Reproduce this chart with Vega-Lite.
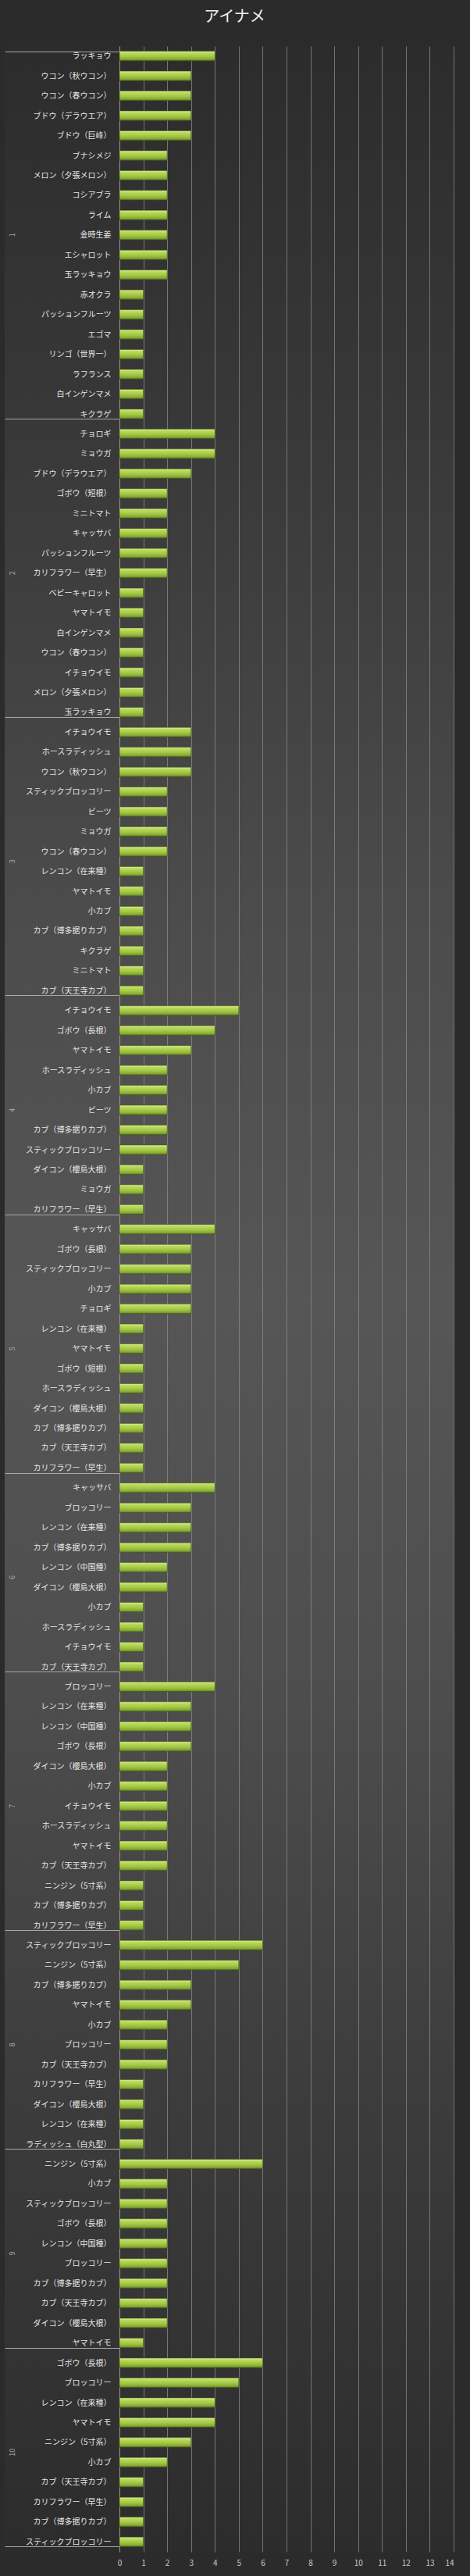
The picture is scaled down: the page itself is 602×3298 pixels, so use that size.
{
  "$schema": "https://vega.github.io/schema/vega-lite/v6.json",
  "autosize": "none",
  "width": 575,
  "height": 3208,
  "padding": {"left": 6, "top": 59, "right": 21, "bottom": 31},
  "background": "#2b2b2b",
  "title": {"text": "アイナメ", "color": "#f2f2f2", "fontSize": 20, "font": "Noto Sans CJK JP", "fontWeight": "normal", "anchor": "middle", "offset": 22, "dx": 7},
  "config": {
    "view": {"stroke": null, "fill": {"gradient": "linear", "x1": 0, "y1": 0, "x2": 0, "y2": 1, "stops": [
      {"offset": 0, "color": "#2c2c2c"},
      {"offset": 0.15, "color": "#383838"},
      {"offset": 0.35, "color": "#4c4c4c"},
      {"offset": 0.5, "color": "#565656"},
      {"offset": 0.65, "color": "#4e4e4e"},
      {"offset": 0.82, "color": "#3c3c3c"},
      {"offset": 1, "color": "#2c2c2c"}]}},
    "axis": {"labelFont": "Noto Sans CJK JP"}
  },
  "data": {"values": [
    {"group": "1", "item": "ラッキョウ", "id": "1|ラッキョウ", "count": 4},
    {"group": "1", "item": "ウコン（秋ウコン）", "id": "1|ウコン（秋ウコン）", "count": 3},
    {"group": "1", "item": "ウコン（春ウコン）", "id": "1|ウコン（春ウコン）", "count": 3},
    {"group": "1", "item": "ブドウ（デラウエア）", "id": "1|ブドウ（デラウエア）", "count": 3},
    {"group": "1", "item": "ブドウ（巨峰）", "id": "1|ブドウ（巨峰）", "count": 3},
    {"group": "1", "item": "ブナシメジ", "id": "1|ブナシメジ", "count": 2},
    {"group": "1", "item": "メロン（夕張メロン）", "id": "1|メロン（夕張メロン）", "count": 2},
    {"group": "1", "item": "コシアブラ", "id": "1|コシアブラ", "count": 2},
    {"group": "1", "item": "ライム", "id": "1|ライム", "count": 2},
    {"group": "1", "item": "金時生姜", "id": "1|金時生姜", "count": 2},
    {"group": "1", "item": "エシャロット", "id": "1|エシャロット", "count": 2},
    {"group": "1", "item": "玉ラッキョウ", "id": "1|玉ラッキョウ", "count": 2},
    {"group": "1", "item": "赤オクラ", "id": "1|赤オクラ", "count": 1},
    {"group": "1", "item": "パッションフルーツ", "id": "1|パッションフルーツ", "count": 1},
    {"group": "1", "item": "エゴマ", "id": "1|エゴマ", "count": 1},
    {"group": "1", "item": "リンゴ（世界一）", "id": "1|リンゴ（世界一）", "count": 1},
    {"group": "1", "item": "ラフランス", "id": "1|ラフランス", "count": 1},
    {"group": "1", "item": "白インゲンマメ", "id": "1|白インゲンマメ", "count": 1},
    {"group": "1", "item": "キクラゲ", "id": "1|キクラゲ", "count": 1},
    {"group": "2", "item": "チョロギ", "id": "2|チョロギ", "count": 4},
    {"group": "2", "item": "ミョウガ", "id": "2|ミョウガ", "count": 4},
    {"group": "2", "item": "ブドウ（デラウエア）", "id": "2|ブドウ（デラウエア）", "count": 3},
    {"group": "2", "item": "ゴボウ（短根）", "id": "2|ゴボウ（短根）", "count": 2},
    {"group": "2", "item": "ミニトマト", "id": "2|ミニトマト", "count": 2},
    {"group": "2", "item": "キャッサバ", "id": "2|キャッサバ", "count": 2},
    {"group": "2", "item": "パッションフルーツ", "id": "2|パッションフルーツ", "count": 2},
    {"group": "2", "item": "カリフラワー（早生）", "id": "2|カリフラワー（早生）", "count": 2},
    {"group": "2", "item": "ベビーキャロット", "id": "2|ベビーキャロット", "count": 1},
    {"group": "2", "item": "ヤマトイモ", "id": "2|ヤマトイモ", "count": 1},
    {"group": "2", "item": "白インゲンマメ", "id": "2|白インゲンマメ", "count": 1},
    {"group": "2", "item": "ウコン（春ウコン）", "id": "2|ウコン（春ウコン）", "count": 1},
    {"group": "2", "item": "イチョウイモ", "id": "2|イチョウイモ", "count": 1},
    {"group": "2", "item": "メロン（夕張メロン）", "id": "2|メロン（夕張メロン）", "count": 1},
    {"group": "2", "item": "玉ラッキョウ", "id": "2|玉ラッキョウ", "count": 1},
    {"group": "3", "item": "イチョウイモ", "id": "3|イチョウイモ", "count": 3},
    {"group": "3", "item": "ホースラディッシュ", "id": "3|ホースラディッシュ", "count": 3},
    {"group": "3", "item": "ウコン（秋ウコン）", "id": "3|ウコン（秋ウコン）", "count": 3},
    {"group": "3", "item": "スティックブロッコリー", "id": "3|スティックブロッコリー", "count": 2},
    {"group": "3", "item": "ビーツ", "id": "3|ビーツ", "count": 2},
    {"group": "3", "item": "ミョウガ", "id": "3|ミョウガ", "count": 2},
    {"group": "3", "item": "ウコン（春ウコン）", "id": "3|ウコン（春ウコン）", "count": 2},
    {"group": "3", "item": "レンコン（在来種）", "id": "3|レンコン（在来種）", "count": 1},
    {"group": "3", "item": "ヤマトイモ", "id": "3|ヤマトイモ", "count": 1},
    {"group": "3", "item": "小カブ", "id": "3|小カブ", "count": 1},
    {"group": "3", "item": "カブ（博多据りカブ）", "id": "3|カブ（博多据りカブ）", "count": 1},
    {"group": "3", "item": "キクラゲ", "id": "3|キクラゲ", "count": 1},
    {"group": "3", "item": "ミニトマト", "id": "3|ミニトマト", "count": 1},
    {"group": "3", "item": "カブ（天王寺カブ）", "id": "3|カブ（天王寺カブ）", "count": 1},
    {"group": "4", "item": "イチョウイモ", "id": "4|イチョウイモ", "count": 5},
    {"group": "4", "item": "ゴボウ（長根）", "id": "4|ゴボウ（長根）", "count": 4},
    {"group": "4", "item": "ヤマトイモ", "id": "4|ヤマトイモ", "count": 3},
    {"group": "4", "item": "ホースラディッシュ", "id": "4|ホースラディッシュ", "count": 2},
    {"group": "4", "item": "小カブ", "id": "4|小カブ", "count": 2},
    {"group": "4", "item": "ビーツ", "id": "4|ビーツ", "count": 2},
    {"group": "4", "item": "カブ（博多据りカブ）", "id": "4|カブ（博多据りカブ）", "count": 2},
    {"group": "4", "item": "スティックブロッコリー", "id": "4|スティックブロッコリー", "count": 2},
    {"group": "4", "item": "ダイコン（櫻島大根）", "id": "4|ダイコン（櫻島大根）", "count": 1},
    {"group": "4", "item": "ミョウガ", "id": "4|ミョウガ", "count": 1},
    {"group": "4", "item": "カリフラワー（早生）", "id": "4|カリフラワー（早生）", "count": 1},
    {"group": "5", "item": "キャッサバ", "id": "5|キャッサバ", "count": 4},
    {"group": "5", "item": "ゴボウ（長根）", "id": "5|ゴボウ（長根）", "count": 3},
    {"group": "5", "item": "スティックブロッコリー", "id": "5|スティックブロッコリー", "count": 3},
    {"group": "5", "item": "小カブ", "id": "5|小カブ", "count": 3},
    {"group": "5", "item": "チョロギ", "id": "5|チョロギ", "count": 3},
    {"group": "5", "item": "レンコン（在来種）", "id": "5|レンコン（在来種）", "count": 1},
    {"group": "5", "item": "ヤマトイモ", "id": "5|ヤマトイモ", "count": 1},
    {"group": "5", "item": "ゴボウ（短根）", "id": "5|ゴボウ（短根）", "count": 1},
    {"group": "5", "item": "ホースラディッシュ", "id": "5|ホースラディッシュ", "count": 1},
    {"group": "5", "item": "ダイコン（櫻島大根）", "id": "5|ダイコン（櫻島大根）", "count": 1},
    {"group": "5", "item": "カブ（博多据りカブ）", "id": "5|カブ（博多据りカブ）", "count": 1},
    {"group": "5", "item": "カブ（天王寺カブ）", "id": "5|カブ（天王寺カブ）", "count": 1},
    {"group": "5", "item": "カリフラワー（早生）", "id": "5|カリフラワー（早生）", "count": 1},
    {"group": "6", "item": "キャッサバ", "id": "6|キャッサバ", "count": 4},
    {"group": "6", "item": "ブロッコリー", "id": "6|ブロッコリー", "count": 3},
    {"group": "6", "item": "レンコン（在来種）", "id": "6|レンコン（在来種）", "count": 3},
    {"group": "6", "item": "カブ（博多据りカブ）", "id": "6|カブ（博多据りカブ）", "count": 3},
    {"group": "6", "item": "レンコン（中国種）", "id": "6|レンコン（中国種）", "count": 2},
    {"group": "6", "item": "ダイコン（櫻島大根）", "id": "6|ダイコン（櫻島大根）", "count": 2},
    {"group": "6", "item": "小カブ", "id": "6|小カブ", "count": 1},
    {"group": "6", "item": "ホースラディッシュ", "id": "6|ホースラディッシュ", "count": 1},
    {"group": "6", "item": "イチョウイモ", "id": "6|イチョウイモ", "count": 1},
    {"group": "6", "item": "カブ（天王寺カブ）", "id": "6|カブ（天王寺カブ）", "count": 1},
    {"group": "7", "item": "ブロッコリー", "id": "7|ブロッコリー", "count": 4},
    {"group": "7", "item": "レンコン（在来種）", "id": "7|レンコン（在来種）", "count": 3},
    {"group": "7", "item": "レンコン（中国種）", "id": "7|レンコン（中国種）", "count": 3},
    {"group": "7", "item": "ゴボウ（長根）", "id": "7|ゴボウ（長根）", "count": 3},
    {"group": "7", "item": "ダイコン（櫻島大根）", "id": "7|ダイコン（櫻島大根）", "count": 2},
    {"group": "7", "item": "小カブ", "id": "7|小カブ", "count": 2},
    {"group": "7", "item": "イチョウイモ", "id": "7|イチョウイモ", "count": 2},
    {"group": "7", "item": "ホースラディッシュ", "id": "7|ホースラディッシュ", "count": 2},
    {"group": "7", "item": "ヤマトイモ", "id": "7|ヤマトイモ", "count": 2},
    {"group": "7", "item": "カブ（天王寺カブ）", "id": "7|カブ（天王寺カブ）", "count": 2},
    {"group": "7", "item": "ニンジン（5寸系）", "id": "7|ニンジン（5寸系）", "count": 1},
    {"group": "7", "item": "カブ（博多据りカブ）", "id": "7|カブ（博多据りカブ）", "count": 1},
    {"group": "7", "item": "カリフラワー（早生）", "id": "7|カリフラワー（早生）", "count": 1},
    {"group": "8", "item": "スティックブロッコリー", "id": "8|スティックブロッコリー", "count": 6},
    {"group": "8", "item": "ニンジン（5寸系）", "id": "8|ニンジン（5寸系）", "count": 5},
    {"group": "8", "item": "カブ（博多据りカブ）", "id": "8|カブ（博多据りカブ）", "count": 3},
    {"group": "8", "item": "ヤマトイモ", "id": "8|ヤマトイモ", "count": 3},
    {"group": "8", "item": "小カブ", "id": "8|小カブ", "count": 2},
    {"group": "8", "item": "ブロッコリー", "id": "8|ブロッコリー", "count": 2},
    {"group": "8", "item": "カブ（天王寺カブ）", "id": "8|カブ（天王寺カブ）", "count": 2},
    {"group": "8", "item": "カリフラワー（早生）", "id": "8|カリフラワー（早生）", "count": 1},
    {"group": "8", "item": "ダイコン（櫻島大根）", "id": "8|ダイコン（櫻島大根）", "count": 1},
    {"group": "8", "item": "レンコン（在来種）", "id": "8|レンコン（在来種）", "count": 1},
    {"group": "8", "item": "ラディッシュ（白丸型）", "id": "8|ラディッシュ（白丸型）", "count": 1},
    {"group": "9", "item": "ニンジン（5寸系）", "id": "9|ニンジン（5寸系）", "count": 6},
    {"group": "9", "item": "小カブ", "id": "9|小カブ", "count": 2},
    {"group": "9", "item": "スティックブロッコリー", "id": "9|スティックブロッコリー", "count": 2},
    {"group": "9", "item": "ゴボウ（長根）", "id": "9|ゴボウ（長根）", "count": 2},
    {"group": "9", "item": "レンコン（中国種）", "id": "9|レンコン（中国種）", "count": 2},
    {"group": "9", "item": "ブロッコリー", "id": "9|ブロッコリー", "count": 2},
    {"group": "9", "item": "カブ（博多据りカブ）", "id": "9|カブ（博多据りカブ）", "count": 2},
    {"group": "9", "item": "カブ（天王寺カブ）", "id": "9|カブ（天王寺カブ）", "count": 2},
    {"group": "9", "item": "ダイコン（櫻島大根）", "id": "9|ダイコン（櫻島大根）", "count": 2},
    {"group": "9", "item": "ヤマトイモ", "id": "9|ヤマトイモ", "count": 1},
    {"group": "10", "item": "ゴボウ（長根）", "id": "10|ゴボウ（長根）", "count": 6},
    {"group": "10", "item": "ブロッコリー", "id": "10|ブロッコリー", "count": 5},
    {"group": "10", "item": "レンコン（在来種）", "id": "10|レンコン（在来種）", "count": 4},
    {"group": "10", "item": "ヤマトイモ", "id": "10|ヤマトイモ", "count": 4},
    {"group": "10", "item": "ニンジン（5寸系）", "id": "10|ニンジン（5寸系）", "count": 3},
    {"group": "10", "item": "小カブ", "id": "10|小カブ", "count": 2},
    {"group": "10", "item": "カブ（天王寺カブ）", "id": "10|カブ（天王寺カブ）", "count": 1},
    {"group": "10", "item": "カリフラワー（早生）", "id": "10|カリフラワー（早生）", "count": 1},
    {"group": "10", "item": "カブ（博多据りカブ）", "id": "10|カブ（博多据りカブ）", "count": 1},
    {"group": "10", "item": "スティックブロッコリー", "id": "10|スティックブロッコリー", "count": 1}
  ]},
  "layer": [
    {
      "mark": {"type": "bar", "stroke": "#44591a", "strokeWidth": 0.6,
        "color": {"gradient": "linear", "x1": 0, "y1": 0, "x2": 0, "y2": 1, "stops": [
          {"offset": 0, "color": "#e2f39a"},
          {"offset": 0.18, "color": "#bcdb5e"},
          {"offset": 0.55, "color": "#a3c746"},
          {"offset": 0.85, "color": "#86a834"},
          {"offset": 1, "color": "#5a7420"}]}},
      "encoding": {
        "y": {"field": "id", "type": "nominal", "sort": null,
          "scale": {"paddingInner": 0.52, "paddingOuter": 0.26},
          "axis": {"orient": "left", "offset": -147, "title": null, "grid": false,
            "domain": true, "domainColor": "#9a9a9a", "domainWidth": 1,
            "ticks": true, "tickBand": "extent", "tickSize": 147, "tickColor": "#a8a8a8", "tickWidth": 1,
            "tickOpacity": {"condition": {"test": "datum.index < 0 || !isString(datum.value) || indexof(['1|キクラゲ','2|玉ラッキョウ','3|カブ（天王寺カブ）','4|カリフラワー（早生）','5|カリフラワー（早生）','6|カブ（天王寺カブ）','7|カリフラワー（早生）','8|ラディッシュ（白丸型）','9|ヤマトイモ','10|スティックブロッコリー'], datum.value) >= 0", "value": 1}, "value": 0},
            "labelPadding": -136, "labelColor": "#e6e6e6", "labelFontSize": 10,
            "labelExpr": "isString(datum.label) ? slice(datum.label, indexof(datum.label, '|') + 1) : ''"}},
        "x": {"field": "count", "type": "quantitative",
          "scale": {"domain": [-4.808, 14], "nice": false, "zero": false},
          "axis": {"values": [0,1,2,3,4,5,6,7,8,9,10,11,12,13,14], "title": null, "grid": true,
            "gridColor": "#8c8c8c", "gridOpacity": 0.75, "gridWidth": 1, "domain": false, "ticks": false,
            "labelColor": "#c8c8c8", "labelFontSize": 10, "labelPadding": 9}},
        "x2": {"datum": 0}
      }
    },
    {
      "mark": {"type": "point", "opacity": 0},
      "encoding": {
        "y": {"field": "id", "type": "nominal", "sort": null,
          "axis": {"orient": "left", "offset": -9, "title": null, "grid": false, "domain": false, "ticks": false,
            "labelAngle": -90, "labelAlign": "center", "labelBaseline": "middle", "labelPadding": 0,
            "labelColor": "#b0b0b0", "labelFontSize": 9,
            "labelOffset": {"condition": {"test": "isString(datum.value) && indexof(['3|ウコン（春ウコン）','6|レンコン（中国種）','9|レンコン（中国種）','10|ニンジン（5寸系）'], datum.value) >= 0", "value": 12.7}, "value": 0},
            "labelExpr": "isString(datum.value) && indexof(['1|金時生姜','2|カリフラワー（早生）','3|ウコン（春ウコン）','4|ビーツ','5|ヤマトイモ','6|レンコン（中国種）','7|イチョウイモ','8|ブロッコリー','9|レンコン（中国種）','10|ニンジン（5寸系）'], datum.value) >= 0 ? '' + (indexof(['1|金時生姜','2|カリフラワー（早生）','3|ウコン（春ウコン）','4|ビーツ','5|ヤマトイモ','6|レンコン（中国種）','7|イチョウイモ','8|ブロッコリー','9|レンコン（中国種）','10|ニンジン（5寸系）'], datum.value) + 1) : ''"}}
      }
    }
  ],
  "resolve": {"axis": {"y": "independent"}}
}
